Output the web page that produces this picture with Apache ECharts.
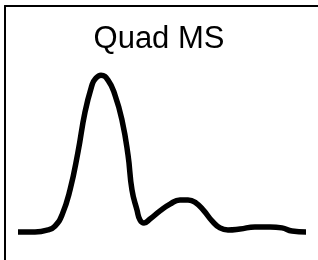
<!DOCTYPE html>
<html>
<head>
<meta charset="utf-8">
<script src="https://cdn.jsdelivr.net/npm/echarts@6/dist/echarts.min.js"></script>
<style>
  html, body { margin: 0; padding: 0; background: #fff; }
  #main { width: 318px; height: 260px; }
</style>
</head>
<body>
<div id="main"></div>
<script>
// signal: time (arbitrary) and relative intensity (% of main peak)
var times = [13, 30, 43, 50, 57, 65, 73, 80, 87, 90, 96, 103, 110, 117, 123, 127, 132, 135, 139,
  145, 155, 165, 175, 183, 191, 199, 207, 215, 223, 235, 250, 265, 277, 287, 301]
var intensity = [0, 0, 1.3, 3.8, 10.9, 26.9, 51.3, 76.9, 94.2, 98, 100.6, 97.4, 87.8, 71.8, 49.4, 26.9, 14.1, 7.7, 5.8,
  8.3, 13.5, 17.9, 20.5, 20.5, 18.6, 13.5, 7.1, 2.6, 1.3, 1.9, 3.2, 3.2, 2.6, 0.6, 0]
var title = 'Quad MS'

var chart = echarts.init(document.getElementById('main'))
var points = []
for (var i = 0; i < times.length; i++) {
  points.push([times[i], intensity[i]])
}

var option = {
  animation: false,
  title: {
    text: title,
    left: 'center',
    top: 19,
    textStyle: {
      fontFamily: 'Liberation Sans, Arial, sans-serif',
      fontSize: 31,
      fontWeight: 'normal',
      color: '#000'
    }
  },
  grid: { left: 5, top: 6, right: 0, bottom: 0 },
  xAxis: {
    type: 'value',
    position: 'top',
    min: 0,
    max: 313,
    axisLine: { show: true, onZero: false, lineStyle: { color: '#000', width: 2 } },
    axisTick: { show: false },
    axisLabel: { show: false },
    splitLine: { show: false }
  },
  yAxis: {
    type: 'value',
    min: -18,
    max: 145,
    axisLine: { show: true, onZero: false, lineStyle: { color: '#000', width: 2 } },
    axisTick: { show: false },
    axisLabel: { show: false },
    splitLine: { show: false }
  },
  series: [{
    type: 'line',
    data: points,
    smooth: true,
    showSymbol: false,
    lineStyle: { color: '#000', width: 5.5, cap: 'butt', join: 'round' }
  }]
}
chart.setOption(option)
</script>
</body>
</html>
